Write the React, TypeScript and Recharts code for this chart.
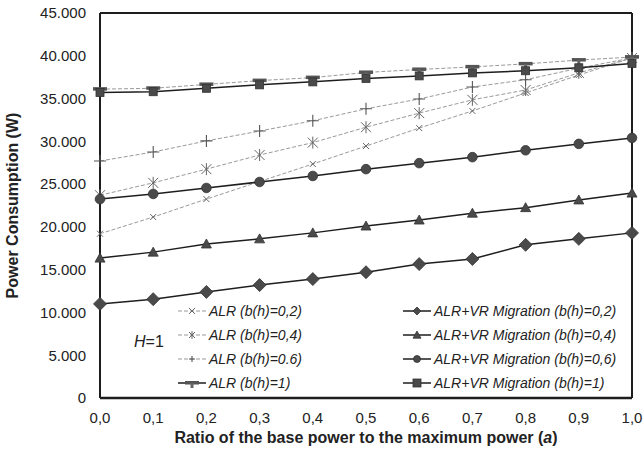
import { LineChart, Line, XAxis, YAxis, ReferenceLine } from 'recharts';

// ratio of base power to max power (a)
const ratios = [0, 0.1, 0.2, 0.3, 0.4, 0.5, 0.6, 0.7, 0.8, 0.9, 1.0];

// ALR only
const alr02 = [19200, 21150, 23250, 25300, 27350, 29450, 31550, 33550, 35650, 37750, 39750];
const alr04 = [23700, 25150, 26750, 28400, 29850, 31650, 33300, 34850, 36000, 38000, 39750];
const alr06 = [27700, 28750, 30050, 31200, 32400, 33800, 34950, 36350, 37200, 38550, 39750];
const alr1 = [36100, 36200, 36650, 37100, 37450, 38050, 38400, 38700, 39050, 39500, 39850];

// ALR + VR migration
const mig02 = [11000, 11550, 12400, 13200, 13900, 14700, 15650, 16250, 17900, 18600, 19300];
const mig04 = [16350, 17050, 18000, 18600, 19300, 20100, 20800, 21600, 22250, 23150, 23950];
const mig06 = [23250, 23850, 24550, 25250, 25950, 26750, 27450, 28150, 28950, 29700, 30400];
const mig1 = [35700, 35800, 36200, 36600, 36950, 37350, 37650, 38000, 38250, 38600, 39100];

const xTicks = [0, 0.1, 0.2, 0.3, 0.4, 0.5, 0.6, 0.7, 0.8, 0.9, 1.0];
const yTicks = [0, 5000, 10000, 15000, 20000, 25000, 30000, 35000, 40000, 45000];

const data = ratios.map((r, i) => ({
  ratio: r,
  alr02: alr02[i],
  alr04: alr04[i],
  alr06: alr06[i],
  alr1: alr1[i],
  mig02: mig02[i],
  mig04: mig04[i],
  mig06: mig06[i],
  mig1: mig1[i],
}));

const FONT = '"Liberation Sans", Arial, sans-serif';
const INK = '#1e1e1e';
const MARK = '#4a4a4a';
const GHOST = '#9a9a9a';

// --- marker shapes ---
function Diamond({ cx, cy, s = 6.5 }: any) {
  return <path d={`M${cx},${cy - s}L${cx + s},${cy}L${cx},${cy + s}L${cx - s},${cy}Z`} fill={MARK} stroke="#333" strokeWidth={0.8} />;
}
function Tri({ cx, cy, s = 5 }: any) {
  return <path d={`M${cx},${cy - s}L${cx + s},${cy + s * 0.8}L${cx - s},${cy + s * 0.8}Z`} fill={MARK} stroke="#333" strokeWidth={0.8} />;
}
function Circ({ cx, cy, r = 4.8 }: any) {
  return <circle cx={cx} cy={cy} r={r} fill={MARK} stroke="#333" strokeWidth={0.8} />;
}
function Sq({ cx, cy, s = 4 }: any) {
  return <rect x={cx - s} y={cy - s} width={s * 2} height={s * 2} fill={MARK} stroke="#333" strokeWidth={0.8} />;
}
function Cross({ cx, cy, s = 3 }: any) {
  return (
    <path d={`M${cx - s},${cy - s}L${cx + s},${cy + s}M${cx - s},${cy + s}L${cx + s},${cy - s}`} stroke="#666" strokeWidth={1} fill="none" />
  );
}
function Star({ cx, cy, s = 5 }: any) {
  return (
    <path
      d={`M${cx - s},${cy - s}L${cx + s},${cy + s}M${cx - s},${cy + s}L${cx + s},${cy - s}M${cx},${cy - s - 1}L${cx},${cy + s + 1}`}
      stroke="#666"
      strokeWidth={1}
      fill="none"
    />
  );
}
function Plus({ cx, cy, s = 6 }: any) {
  return <path d={`M${cx - s},${cy}L${cx + s},${cy}M${cx},${cy - s}L${cx},${cy + s}`} stroke="#555" strokeWidth={1.1} fill="none" />;
}
function TBar({ cx, cy }: any) {
  return (
    <g>
      <rect x={cx - 7} y={cy - 2} width={14} height={3.5} fill="#555" />
      <rect x={cx - 1.5} y={cy} width={3} height={5} fill="#666" />
    </g>
  );
}

const dotOf = (Shape: any) => (p: any) => <Shape key={p.index} cx={p.cx} cy={p.cy} />;

function XTitle({ viewBox }: any) {
  const { x, y, width } = viewBox;
  return (
    <text x={x + width / 2} y={y + 45} textAnchor="middle" fontFamily={FONT} fontSize={16} fontWeight="bold" fill="#222">
      Ratio of the base power to the maximum power (<tspan fontStyle="italic">a</tspan>)
    </text>
  );
}

function LegendRow({ label, Shape, ghost }: any) {
  return (
    <div style={{ display: 'flex', alignItems: 'center', height: 24 }}>
      <svg width={28} height={14} style={{ marginRight: 3 }}>
        <line
          x1={0}
          y1={7}
          x2={28}
          y2={7}
          stroke={ghost ? GHOST : INK}
          strokeWidth={ghost ? 1 : 1.5}
          strokeDasharray={ghost ? '4 2' : undefined}
        />
        <Shape cx={14} cy={7} s={ghost ? 3 : 4} r={3.5} />
      </svg>
      <span style={{ fontStyle: 'italic', fontSize: 14, color: '#222' }}>{label}</span>
    </div>
  );
}

export default function App() {
  return (
    <div style={{ position: 'absolute', left: 0, top: 0, width: 644, height: 449, background: '#fff', fontFamily: FONT }}>
      <LineChart width={644} height={449} data={data} margin={{ top: 13, right: 12, left: 0, bottom: 0 }}>
        <XAxis
          dataKey="ratio"
          type="number"
          domain={[0, 1]}
          ticks={xTicks}
          tickFormatter={(v: number) => v.toFixed(1).replace('.', ',')}
          tickLine={false}
          tickSize={0}
          tickMargin={14}
          height={51}
          axisLine={{ stroke: INK, strokeWidth: 2.5 }}
          tick={{ fill: '#222', fontSize: 15, fontFamily: FONT }}
          label={<XTitle />}
        />
        <YAxis
          type="number"
          domain={[0, 45000]}
          ticks={yTicks}
          tickFormatter={(v: number) => (v === 0 ? '0' : `${v / 1000}.000`)}
          tickLine={false}
          tickSize={0}
          tickMargin={14}
          width={100}
          axisLine={{ stroke: INK, strokeWidth: 2 }}
          tick={{ fill: '#222', fontSize: 15, fontFamily: FONT }}
          label={{
            value: 'Power Consumption (W)',
            angle: -90,
            position: 'insideLeft',
            offset: 12,
            style: { fontWeight: 'bold', fontSize: 16, fill: '#222', fontFamily: FONT, textAnchor: 'middle' },
          }}
        />
        <ReferenceLine y={45000} stroke={INK} strokeWidth={2} />
        <ReferenceLine x={1} stroke={INK} strokeWidth={2} />

        <Line dataKey="alr02" stroke={GHOST} strokeWidth={1} strokeDasharray="4 2" dot={dotOf(Cross)} isAnimationActive={false} />
        <Line dataKey="alr04" stroke={GHOST} strokeWidth={1} strokeDasharray="4 2" dot={dotOf(Star)} isAnimationActive={false} />
        <Line dataKey="alr06" stroke={GHOST} strokeWidth={1} strokeDasharray="4 2" dot={dotOf(Plus)} isAnimationActive={false} />
        <Line dataKey="alr1" stroke={GHOST} strokeWidth={1} strokeDasharray="4 2" dot={dotOf(TBar)} isAnimationActive={false} />

        <Line dataKey="mig02" stroke={INK} strokeWidth={1.5} dot={dotOf(Diamond)} isAnimationActive={false} />
        <Line dataKey="mig04" stroke={INK} strokeWidth={1.5} dot={dotOf(Tri)} isAnimationActive={false} />
        <Line dataKey="mig06" stroke={INK} strokeWidth={1.5} dot={dotOf(Circ)} isAnimationActive={false} />
        <Line dataKey="mig1" stroke={INK} strokeWidth={1.5} dot={dotOf(Sq)} isAnimationActive={false} />
      </LineChart>

      <div style={{ position: 'absolute', left: 134, top: 333, fontSize: 16, color: '#222' }}>
        <i>H</i>=1
      </div>

      <div style={{ position: 'absolute', left: 178, top: 299 }}>
        <LegendRow label="ALR (b(h)=0,2)" Shape={Cross} ghost />
        <LegendRow label="ALR (b(h)=0,4)" Shape={Star} ghost />
        <LegendRow label="ALR (b(h)=0.6)" Shape={Plus} ghost />
        <LegendRow label="ALR (b(h)=1)" Shape={TBar} />
      </div>

      <div style={{ position: 'absolute', left: 403, top: 299 }}>
        <LegendRow label="ALR+VR Migration (b(h)=0,2)" Shape={Diamond} />
        <LegendRow label="ALR+VR Migration (b(h)=0,4)" Shape={Tri} />
        <LegendRow label="ALR+VR Migration (b(h)=0,6)" Shape={Circ} />
        <LegendRow label="ALR+VR Migration (b(h)=1)" Shape={Sq} />
      </div>
    </div>
  );
}
